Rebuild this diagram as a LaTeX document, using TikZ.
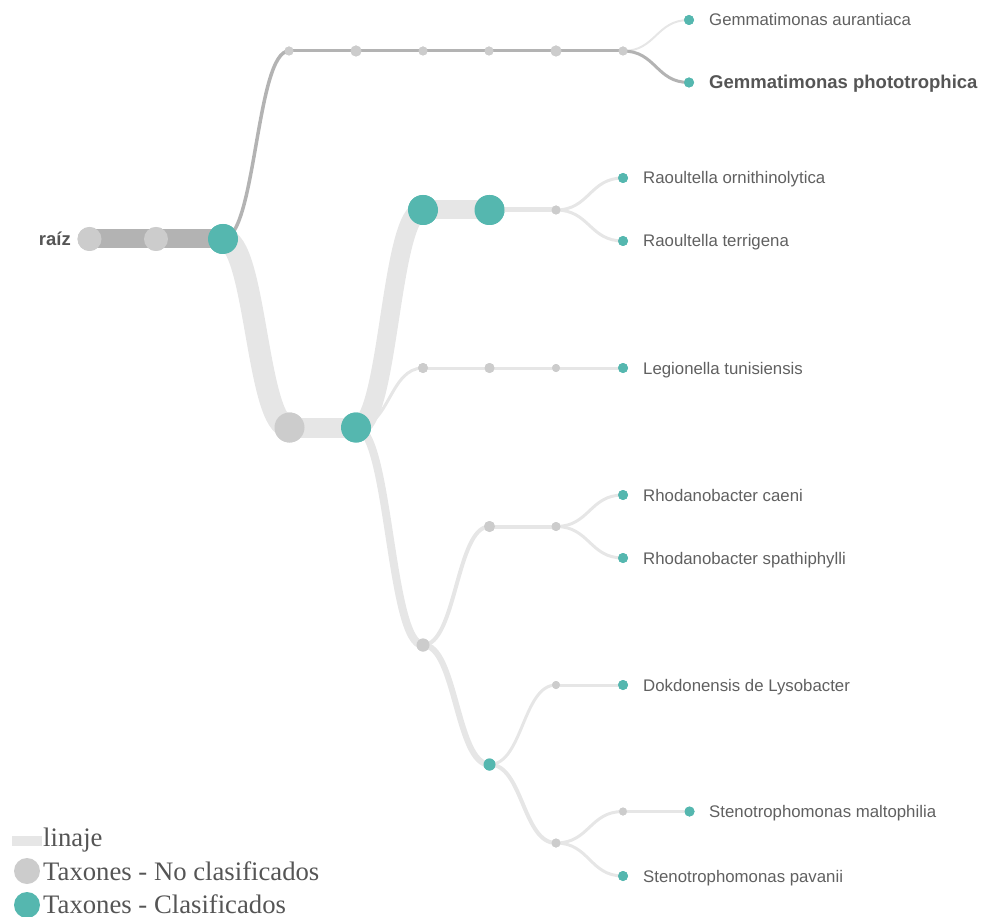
\documentclass[tikz,border=0pt]{standalone}
\usepackage{fontspec}
\setmainfont{Liberation Serif}
\newfontfamily\arialfont{Liberation Sans}
\usetikzlibrary{calc}
\definecolor{teal1}{HTML}{55B7AF}
\definecolor{nodegray}{HTML}{CCCCCC}
\definecolor{linkL}{HTML}{E6E6E6}
\definecolor{linkD}{HTML}{B3B3B3}
\definecolor{labc}{HTML}{606060}
\definecolor{legc}{HTML}{555555}
\newcommand\tlink[3]{\path[#1] let \p1=(#2.center), \p2=(#3.center) in (\p1) .. controls ({(\x1+\x2)/2},\y1) and ({(\x1+\x2)/2},\y2) .. (\p2);}
\tikzset{
  unc/.style={circle, fill=nodegray, inner sep=0pt, minimum size=#1},
  cls/.style={circle, fill=teal1, inner sep=0pt, minimum size=#1},
  lite/.style={draw=linkL, line width=#1},
  dark/.style={draw=linkD, line width=#1},
  leaflab/.style={anchor=base west, inner sep=0pt, text=labc, font=\arialfont\fontsize{16.8}{20}\selectfont},
  boldlab/.style={anchor=base west, inner sep=0pt, text=legc, font=\arialfont\bfseries\fontsize{18.5}{22}\selectfont},
  leglab/.style={anchor=base west, inner sep=0pt, text=legc, font=\fontsize{26.7}{30}\selectfont},
}
\begin{document}
\begin{tikzpicture}[x=1pt,y=-1pt]
\useasboundingbox (0,0) rectangle (985,917);
% nodes (positions)
\node[unc=24] (r0) at (89.5,239) {};
\node[unc=24] (r1) at (156,239) {};
\node[cls=30] (r2) at (223,239) {};
\node[unc=9] (g1) at (289,51) {};
\node[unc=11] (g2) at (356,51) {};
\node[unc=9] (g3) at (423,51) {};
\node[unc=9] (g4) at (489,51) {};
\node[unc=11] (g5) at (556,51) {};
\node[unc=9] (g6) at (623,51) {};
\node[cls=10] (Ga) at (689,20) {};
\node[cls=10] (Gp) at (689,82.5) {};
\node[unc=30] (p1) at (289.5,427.5) {};
\node[cls=30] (p2) at (356,427.5) {};
\node[cls=30] (e1) at (423,210) {};
\node[cls=30] (e2) at (489.5,210) {};
\node[unc=9] (e3) at (556,210) {};
\node[cls=10] (Ro) at (623,178) {};
\node[cls=10] (Rt) at (623,241) {};
\node[unc=10] (l1) at (423,368) {};
\node[unc=10] (l2) at (489.5,368) {};
\node[unc=8] (l3) at (556,368) {};
\node[cls=10] (Lt) at (623,368) {};
\node[unc=13] (x1) at (423,645) {};
\node[unc=11] (rh1) at (489.5,526.5) {};
\node[unc=9] (rh2) at (556,526.5) {};
\node[cls=10] (Rc) at (623,495) {};
\node[cls=10] (Rs) at (623,558) {};
\node[cls=12] (x2) at (489.5,764.5) {};
\node[unc=8] (d1) at (556,685) {};
\node[cls=10] (Dk) at (623,685) {};
\node[unc=9] (s1) at (556,843) {};
\node[unc=8] (s2) at (623,811.5) {};
\node[cls=10] (Sm) at (689.5,811.5) {};
\node[cls=10] (Sp) at (623,876) {};
% links
\begin{scope}
\tlink{lite=2}{g6}{Ga}
\tlink{lite=22}{r2}{p1}
\tlink{lite=20}{p1}{p2}
\tlink{lite=19}{p2}{e1}
\tlink{lite=19}{e1}{e2}
\tlink{lite=5}{e2}{e3}
\tlink{lite=3}{e3}{Ro}
\tlink{lite=3}{e3}{Rt}
\tlink{lite=3}{p2}{l1}
\tlink{lite=3}{l1}{l2}
\tlink{lite=3}{l2}{l3}
\tlink{lite=3}{l3}{Lt}
\tlink{lite=8}{p2}{x1}
\tlink{lite=4}{x1}{rh1}
\tlink{lite=4}{rh1}{rh2}
\tlink{lite=3}{rh2}{Rc}
\tlink{lite=3}{rh2}{Rs}
\tlink{lite=6}{x1}{x2}
\tlink{lite=3}{x2}{d1}
\tlink{lite=3}{d1}{Dk}
\tlink{lite=4}{x2}{s1}
\tlink{lite=3}{s1}{s2}
\tlink{lite=3}{s2}{Sm}
\tlink{lite=3}{s1}{Sp}
\tlink{dark=19}{r0}{r1}
\tlink{dark=19}{r1}{r2}
\tlink{dark=3.5}{r2}{g1}
\tlink{dark=3}{g1}{g2}
\tlink{dark=3}{g2}{g3}
\tlink{dark=3}{g3}{g4}
\tlink{dark=3}{g4}{g5}
\tlink{dark=3}{g5}{g6}
\tlink{dark=3}{g6}{Gp}
\end{scope}
% redraw nodes on top of links
\foreach \n/\s/\d in {r0/unc/24,r1/unc/24,r2/cls/30,g1/unc/9,g2/unc/11,g3/unc/9,g4/unc/9,g5/unc/11,g6/unc/9,Ga/cls/10,Gp/cls/10,p1/unc/30,p2/cls/30,e1/cls/30,e2/cls/30,e3/unc/9,Ro/cls/10,Rt/cls/10,l1/unc/10,l2/unc/10,l3/unc/8,Lt/cls/10,x1/unc/13,rh1/unc/11,rh2/unc/9,Rc/cls/10,Rs/cls/10,x2/cls/12,d1/unc/8,Dk/cls/10,s1/unc/9,s2/unc/8,Sm/cls/10,Sp/cls/10}
  {\node[\s=\d] at (\n.center) {};}
% labels
\node[boldlab, anchor=base east] (lraiz) at (71,245.5) {raíz};
\node[leaflab] (tGa) at (709,26) {Gemmatimonas aurantiaca};
\node[boldlab] (tGp) at (709,89) {Gemmatimonas phototrophica};
\node[leaflab] (tRo) at (643,184) {Raoultella ornithinolytica};
\node[leaflab] (tRt) at (643,247) {Raoultella terrigena};
\node[leaflab] (tLt) at (643,374) {Legionella tunisiensis};
\node[leaflab] (tRc) at (643,501) {Rhodanobacter caeni};
\node[leaflab] (tRs) at (643,564) {Rhodanobacter spathiphylli};
\node[leaflab] (tDk) at (643,691) {Dokdonensis de Lysobacter};
\node[leaflab] (tSm) at (709,817.5) {Stenotrophomonas maltophilia};
\node[leaflab] (tSp) at (643,882) {Stenotrophomonas pavanii};
% legend
\fill[linkL] (12,836) rectangle (42,845.5);
\node[leglab] (leg1) at (43,846) {linaje};
\node[unc=26] (legc1) at (27,871) {};
\node[leglab] (leg2) at (43,880.5) {Taxones - No clasificados};
\node[cls=26] (legc2) at (27,905) {};
\node[leglab] (leg3) at (43,913.5) {Taxones - Clasificados};
\end{tikzpicture}
\end{document}
